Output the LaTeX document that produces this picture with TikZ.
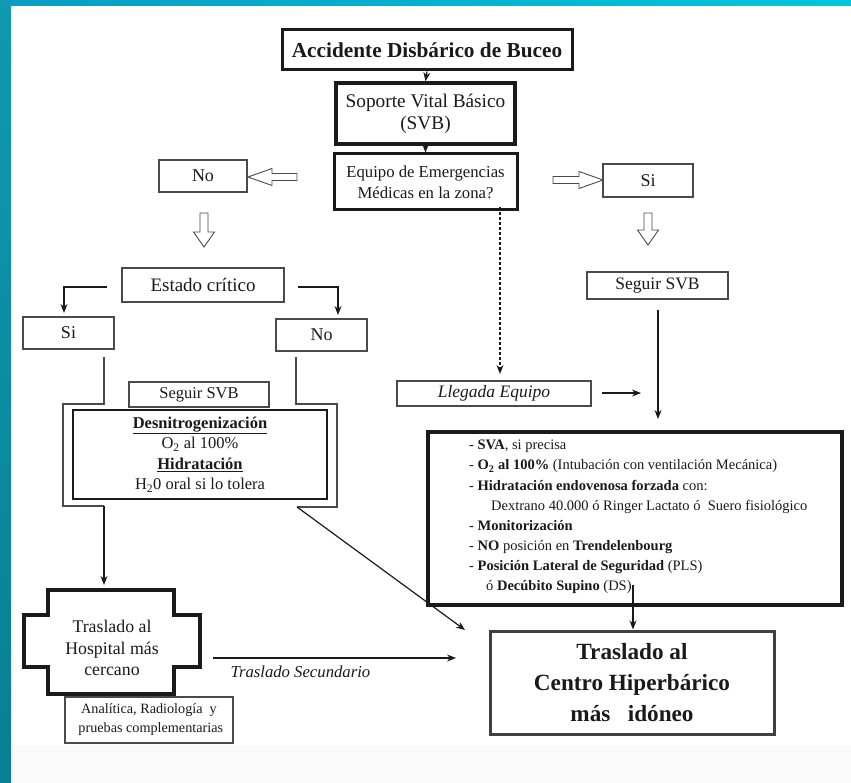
\documentclass[tikz,border=0pt]{standalone}
\usepackage{fontspec}
\setmainfont{Liberation Serif}
\usetikzlibrary{arrows.meta,calc}
\definecolor{ink}{HTML}{1A1A1A}
\definecolor{edge}{HTML}{4A4A4A}
\definecolor{bandtop}{HTML}{00C6DC}
\definecolor{bandmid}{HTML}{0A9CC4}
\definecolor{bandleft}{HTML}{0E9AB2}
\definecolor{bandleftdark}{HTML}{0A7E92}
\begin{document}
\begin{tikzpicture}[x=1pt,y=-1pt,
  every node/.style={text=ink},
  thinbox/.style={draw=edge, line width=1.1pt, fill=white, inner sep=0pt, align=center},
  thickbox/.style={draw=ink, line width=3pt, fill=white, inner sep=0pt, align=center},
  conn/.style={draw=ink, line width=1.2pt},
  arr/.style={conn, -{Stealth[length=9pt,width=7pt]}},
  hollow/.style={draw=edge, line width=0.9pt, fill=white, line join=miter},
  fA/.style={font=\fontsize{18}{20}\selectfont},
  fB/.style={font=\fontsize{16.5}{20.5}\selectfont},
]
\useasboundingbox (0,0) rectangle (851,783);
% background
\fill[white] (0,0) rectangle (851,783);
\fill[black!2] (11,745) rectangle (851,783);
\shade[left color=bandmid, right color=bandtop] (0,0) rectangle (851,6);
\shade[top color=bandleft, bottom color=bandleftdark] (0,0) rectangle (11,783);

% top chain
\node[thickbox, minimum width=290, minimum height=40, font=\bfseries\fontsize{21.3}{22}\selectfont] (title) at (427,50) {Accidente Disbárico de Buceo};
\node[thickbox, line width=3.5pt, minimum width=179, minimum height=61, font=\fontsize{19.3}{22}\selectfont] (svb) at (425.5,113.5) {Soporte Vital Básico\\(SVB)};
\node[thickbox, minimum width=183, minimum height=56, font=\fontsize{16.7}{21}\selectfont] (equipo) at (425.5,182) {Equipo de Emergencias\\Médicas en la zona?};
\draw[arr] (title.south) -- (svb.north);
\draw[arr] (svb.south) -- (equipo.north);

% No / Si
\node[thinbox, minimum width=88, minimum height=32, fA] (no1) at (203,176) {No};
\node[thinbox, minimum width=90, minimum height=33, fA] (si1) at (648,180.5) {Si};
% hollow arrows
\draw[hollow] (248,177) -- (272,168.5) -- (272,173.5) -- (297,173.5) -- (297,180.5) -- (272,180.5) -- (272,185.5) -- cycle;
\draw[hollow] (603,180) -- (579,171.5) -- (579,176.5) -- (553,176.5) -- (553,183.5) -- (579,183.5) -- (579,188.5) -- cycle;
\draw[hollow] (204,247) -- (193.5,232) -- (200,232) -- (200,213) -- (208,213) -- (208,232) -- (214.5,232) -- cycle;
\draw[hollow] (648,245) -- (637.5,230) -- (644,230) -- (644,213) -- (652,213) -- (652,230) -- (658.5,230) -- cycle;

% left branch
\node[thinbox, minimum width=162, minimum height=34, font=\fontsize{19}{20}\selectfont] (estado) at (203,285) {Estado crítico};
\node[thinbox, minimum width=91, minimum height=32, fA] (si2) at (68.5,333) {Si};
\node[thinbox, minimum width=91, minimum height=32, fA] (no2) at (321.5,335) {No};
\coordinate (eL) at (107,287);
\coordinate (eLd) at (64,313);
\coordinate (eR) at (298,287);
\coordinate (eRd) at (338,315);
\draw[arr] (eL) -| (eLd);
\draw[arr] (eR) -| (eRd);

\node[thinbox, minimum width=140, minimum height=25, fB] (seguir1) at (199,394.5) {Seguir SVB};
\node[thinbox, line width=1.8pt, draw=ink, minimum width=254, minimum height=89, fB] (inner) at (200,454.5)
  {\underline{\textbf{Desnitrogenización}}\\O\textsubscript{2} al 100\%\\\underline{\textbf{Hidratación}}\\H\textsubscript{2}0 oral si lo tolera};

% brackets
\coordinate (bl1) at (104,357);
\coordinate (bl2) at (104,506);
\coordinate (br1) at (296,357);
\coordinate (br2) at (297,507);
\draw[conn, draw=edge, line width=1.6pt] (bl1) -- (104,404) -- (63,404) -- (63,506) -- (bl2);
\draw[conn, draw=edge, line width=1.6pt] (br1) -- (296,404) -- (337,404) -- (337,507) -- (br2);

% hospital
\node[align=center, font=\fontsize{17.8}{21.5}\selectfont, inner sep=0pt] (hospital) at (112,648) {Traslado al\\Hospital más\\cercano};
\draw[draw=ink, line width=4.5pt, line join=miter] (48,590) -- (174,590) -- (174,615) -- (200,615) -- (200,667) -- (174,667) -- (174,694) -- (48,694) -- (48,667) -- (24,667) -- (24,615) -- (48,615) -- cycle;
\coordinate (hosptop) at (104,585);
\draw[arr] (bl2) -- (hosptop);
\node[thinbox, minimum width=168, minimum height=46, font=\fontsize{14.2}{19}\selectfont] (analitica) at (149,720) {Analítica, Radiología~~y\\~pruebas complementarias};

% right branch
\node[thinbox, minimum width=141, minimum height=27, font=\fontsize{17.5}{20}\selectfont] (seguir2) at (657.5,285.5) {Seguir SVB};
\node[thinbox, minimum width=194, minimum height=25, font=\itshape\fontsize{17.5}{18}\selectfont] (llegada) at (494,393.5) {Llegada Equipo};
\coordinate (dashtop) at (500,207);
\coordinate (dashend) at (500,374);
\draw[conn, line width=1.1pt, dash pattern=on 3pt off 2pt, -{Stealth[length=9pt,width=7pt]}] (dashtop) -- (dashend);
\coordinate (s2a) at (658,310);
\coordinate (s2b) at (658,419);
\draw[arr] (s2a) -- (s2b);
\coordinate (ll1) at (602,393);
\coordinate (ll2) at (641,393);
\draw[arr] (ll1) -- (ll2);

% SVA box
\node[thickbox, line width=3.5pt, minimum width=414, minimum height=173] (sva) at (635,518.5) {};
\node[anchor=north west, align=left, inner sep=0pt, font=\fontsize{14.5}{20.1}\selectfont] (svatext) at (469,440)
{- \textbf{SVA}, si precisa\\
- \textbf{O\textsubscript{2} al 100\%} (Intubación con ventilación Mecánica)\\
- \textbf{Hidratación endovenosa forzada} con:\\
\hspace*{22pt}Dextrano 40.000 ó Ringer Lactato ó~~Suero fisiológico\\
- \textbf{Monitorización}\\
- \textbf{NO} posición en \textbf{Trendelenbourg}\\
- \textbf{Posición Lateral de Seguridad} (PLS)\\
\hspace*{17pt}ó \textbf{Decúbito Supino} (DS)};

% Centro
\node[thickbox, draw=black!75, line width=3pt, minimum width=284, minimum height=103, font=\bfseries\fontsize{23.2}{31}\selectfont] (centro) at (632,682.5) {Traslado al\\Centro Hiperbárico\\más~~~idóneo};
\coordinate (svaout) at (633,585);
\draw[arr] (svaout) -- (centro.north -| svaout);
\coordinate (diagend) at (465,630);
\draw[arr] (br2) -- (diagend);
\coordinate (ts1) at (213,658);
\coordinate (ts2) at (456,658);
\draw[arr] (ts1) -- (ts2) node[pos=0.36, below=4pt, font=\itshape\fontsize{16.7}{18}\selectfont] (tslabel) {Traslado Secundario};
\end{tikzpicture}
\end{document}
